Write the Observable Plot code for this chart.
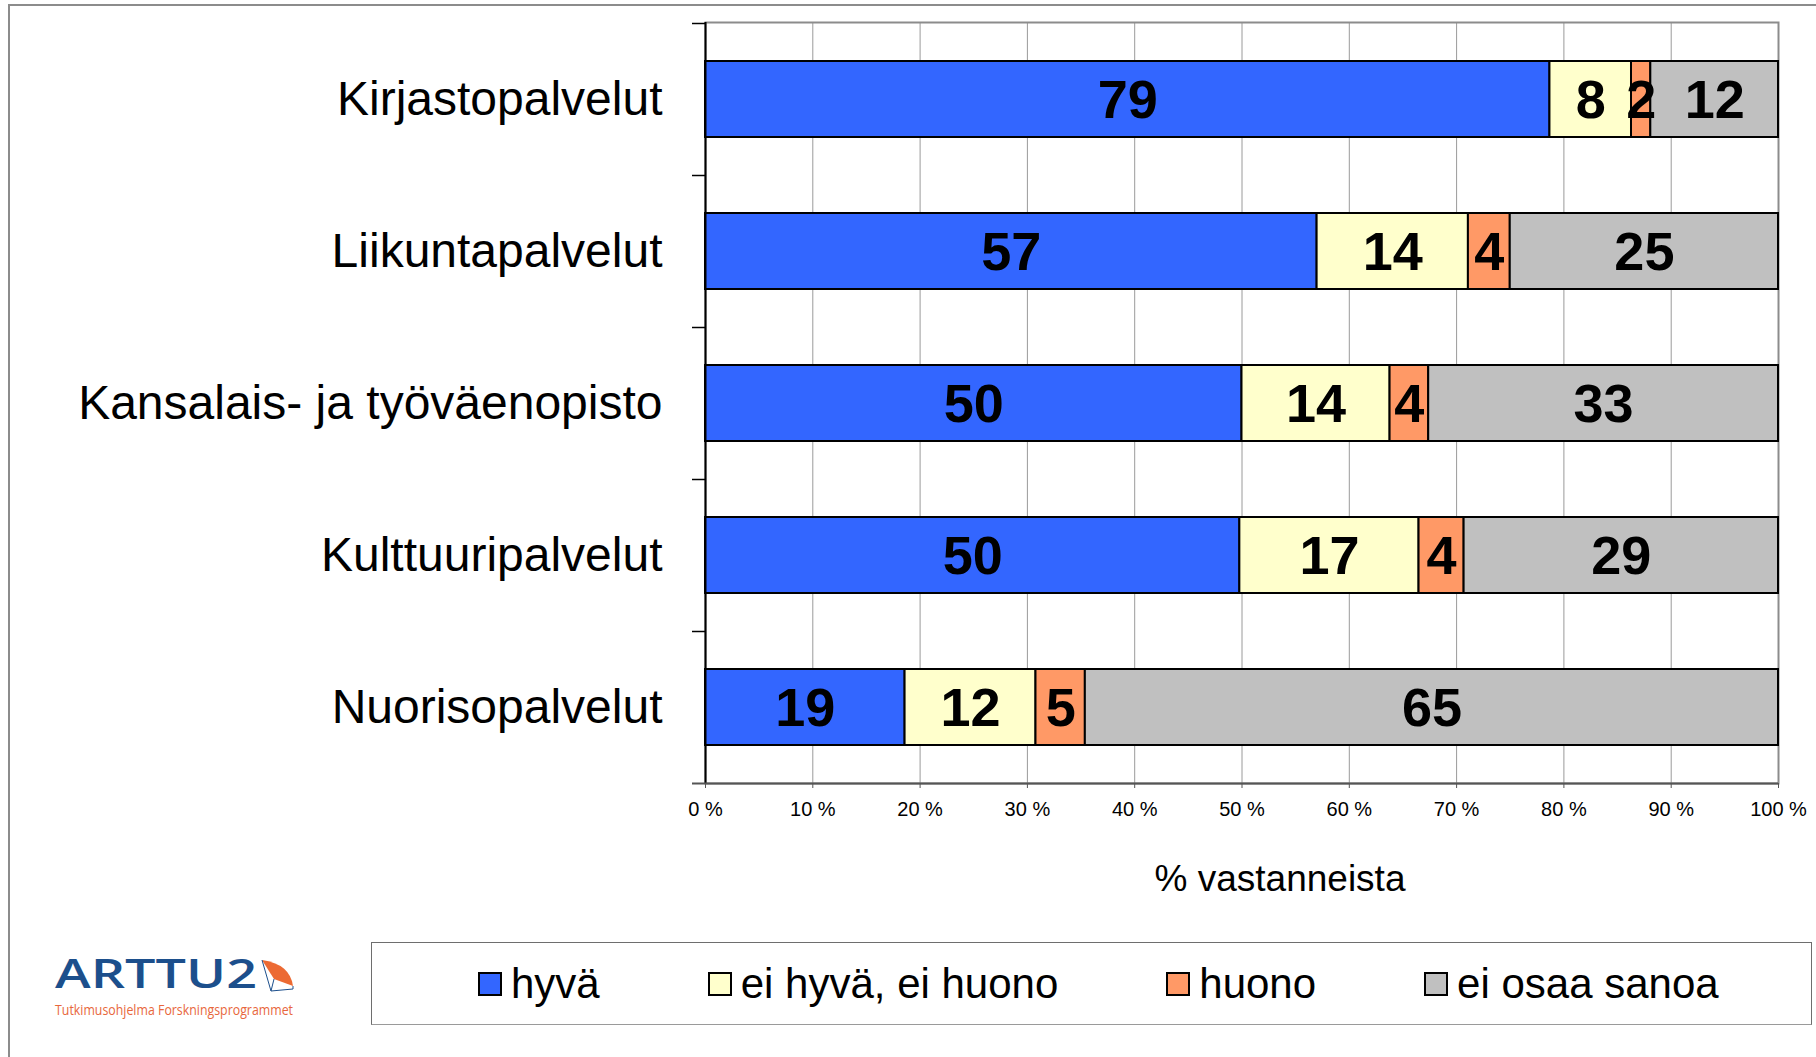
<!DOCTYPE html>
<html>
<head>
<meta charset="utf-8">
<script src="https://cdn.jsdelivr.net/npm/d3@7"></script>
<script src="https://cdn.jsdelivr.net/npm/@observablehq/plot@0.6"></script>
<style>
  html, body { margin: 0; padding: 0; background: #fff; }
  #page { position: relative; width: 1816px; height: 1057px; overflow: hidden; font-family: "Liberation Sans", Arial, sans-serif; }
  #frame { position: absolute; left: 8px; top: 4px; right: -4px; bottom: -4px; border-top: 2px solid #8c8c8c; border-left: 2px solid #8c8c8c; }
  #chart { position: absolute; left: 0; top: 0; }
  #legend { position: absolute; left: 371px; top: 942px; width: 1441px; height: 83px; border: 1px solid #6e6e6e; border-bottom-color: #9a9a9a; box-sizing: border-box; display: flex; align-items: center; padding-left: 106px; gap: 108px; }
  .item { display: flex; align-items: center; font-size: 42px; color: #000; white-space: nowrap; }
  .sw { width: 20px; height: 20px; border: 2px solid #000; margin-right: 9px; flex: none; }
  #logo { position: absolute; left: 40px; top: 940px; }
</style>
</head>
<body>
<div id="page">
  <div id="frame"></div>
  <div id="chart"></div>
  <svg id="logo" width="320" height="90">
    <text x="15" y="48" font-family="Open Sans, sans-serif" font-weight="600" font-size="39" fill="#1c4f8c" textLength="202" lengthAdjust="spacingAndGlyphs">ARTTU2</text>
    <path d="M222,20 Q250,24 253,46 L234,39 Z" fill="#ec6a33"/>
    <path d="M222,20 L231,51 L253,49 L253,46 M234,39 L231,51" stroke="#1c4f8c" fill="none" stroke-width="1"/>
    <text x="15" y="75" font-family="Open Sans, sans-serif" font-size="14" fill="#e8673c" textLength="238" lengthAdjust="spacingAndGlyphs">Tutkimusohjelma  Forskningsprogrammet</text>
  </svg>
  <div id="legend"></div>
</div>
<script>
const categories = ["Kirjastopalvelut", "Liikuntapalvelut", "Kansalais- ja työväenopisto", "Kulttuuripalvelut", "Nuorisopalvelut"];
const series = ["hyvä", "ei hyvä, ei huono", "huono", "ei osaa sanoa"];
const colors = ["#3366FF", "#FFFFCC", "#FF9966", "#C0C0C0"];
const hyva = [78.7, 57.0, 50.0, 49.8, 18.6];
const eiHyvaEiHuono = [7.6, 14.1, 13.8, 16.7, 12.2];
const huono = [1.8, 3.9, 3.6, 4.2, 4.6];
const eiOsaaSanoa = [11.9, 25.0, 32.6, 29.3, 64.6];
const xTicks = [0, 10, 20, 30, 40, 50, 60, 70, 80, 90, 100];
const axisTitle = "% vastanneista";

const seriesValues = [hyva, eiHyvaEiHuono, huono, eiOsaaSanoa];
const data = [];
categories.forEach((c, i) => {
  series.forEach((s, j) => data.push({category: c, series: s, value: seriesValues[j][i]}));
});

const lastCat = categories[categories.length - 1];

const chart = Plot.plot({
  width: 1816,
  height: 910,
  marginTop: 22,
  marginLeft: 705,
  marginRight: 38,
  marginBottom: 127,
  style: {fontFamily: "'Liberation Sans', Arial, sans-serif", background: "transparent", color: "#000", overflow: "visible"},
  x: {domain: [0, 100]},
  y: {domain: categories, paddingInner: 0.5, paddingOuter: 0.25},
  color: {domain: series, range: colors},
  marks: [
    Plot.ruleX(xTicks, {stroke: "#9a9a9a", strokeWidth: 1}),
    Plot.frame({stroke: "#8c8c8c", strokeWidth: 2}),
    Plot.barX(data, Plot.stackX({x: "value", y: "category", z: "series", fill: "series", stroke: "#000", strokeWidth: 2, order: series})),
    Plot.text(data, Plot.stackX({x: "value", y: "category", z: "series", order: series, text: d => String(Math.round(d.value)), fontSize: 54, fontWeight: "bold", fill: "#000", dy: 1})),
    Plot.ruleX([0], {stroke: "#000", strokeWidth: 2}),
    Plot.ruleY(categories, {y: d => d, x1: 0, x2: 0, insetLeft: -13, dy: -76, stroke: "#000", strokeWidth: 1.5}),
    Plot.ruleY([lastCat], {y: d => d, x1: 0, x2: 100, insetLeft: -13, dy: 76, stroke: "#555", strokeWidth: 2}),
    Plot.axisX({ticks: xTicks, tickFormat: d => d + " %", tickSize: 5, tickPadding: 13, fontSize: 20, label: null, stroke: "#555"}),
    Plot.axisY({tickSize: 0, tickPadding: 43, fontSize: 48, label: null}),
    Plot.text([axisTitle], {text: d => d, frameAnchor: "bottom", dx: 38, dy: 107, fontSize: 37, fill: "#000"})
  ]
});
document.getElementById("chart").appendChild(chart);

const legend = document.getElementById("legend");
series.forEach((s, i) => {
  const item = document.createElement("div");
  item.className = "item";
  const sw = document.createElement("div");
  sw.className = "sw";
  sw.style.background = colors[i];
  const label = document.createElement("span");
  label.textContent = s;
  item.appendChild(sw);
  item.appendChild(label);
  legend.appendChild(item);
});
</script>
</body>
</html>
